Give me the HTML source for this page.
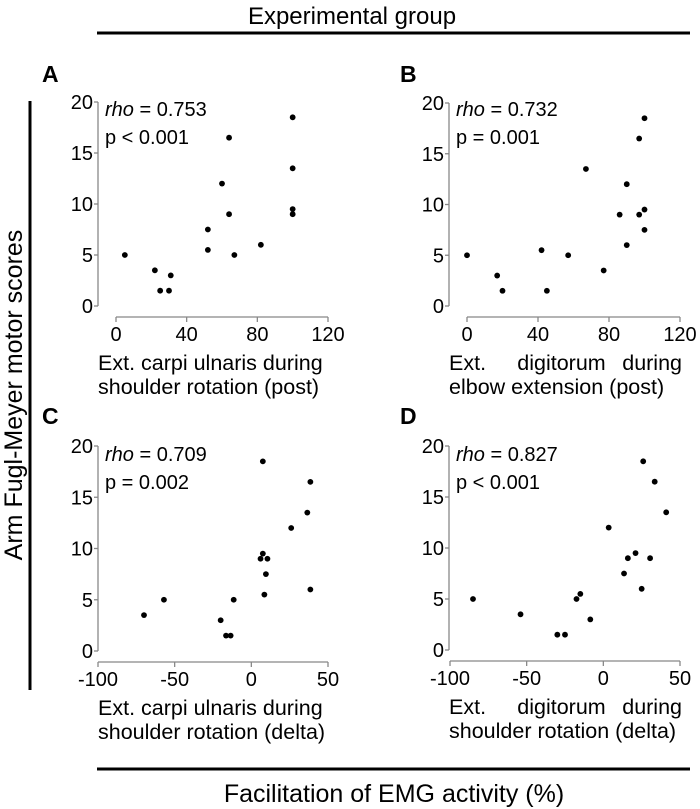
<!DOCTYPE html>
<html><head><meta charset="utf-8"><style>
body{margin:0;background:#fff;}
svg{display:block;font-family:"Liberation Sans",Arial,sans-serif;}
</style></head><body>
<svg id="fig" width="700" height="809" viewBox="0 0 700 809">
<text x="352" y="24" font-size="24" text-anchor="middle">Experimental group</text>
<line x1="97" y1="33" x2="690" y2="33" stroke="#000" stroke-width="3"/>
<line x1="30" y1="101" x2="30" y2="690" stroke="#000" stroke-width="3"/>
<text transform="translate(22,395) rotate(-90)" font-size="25" text-anchor="middle">Arm Fugl-Meyer motor scores</text>
<line x1="97" y1="769" x2="690" y2="769" stroke="#000" stroke-width="3"/>
<text x="394" y="802" font-size="25" text-anchor="middle">Facilitation of EMG activity (%)</text>
<g id="panels"></g>
</svg>
<script>
const aX=[5,22,25,30,31,52,52,60,64,64,67,82,100,100,100,100];
const aY=[5,3.5,1.5,1.5,3,7.5,5.5,12,16.5,9,5,6,18.5,13.5,9.5,9];
const bX=[0,17,20,42,45,57,67,77,86,90,90,97,97,100,100,100];
const bY=[5,3,1.5,5.5,1.5,5,13.5,3.5,9,12,6,16.5,9,18.5,9.5,7.5];
const cX=[-70,-57,-20,-16.5,-13.5,-11.5,6,7.5,10.5,9.5,8.5,7.5,26,36.5,38.5,38.5];
const cY=[3.5,5,3,1.5,1.5,5,9,9.5,9,7.5,5.5,18.5,12,13.5,16.5,6];
const dX=[-85,-54,-30,-25,-17.5,-15,-8.5,3.5,13.5,16,21,25,26,30.5,33.5,41];
const dY=[5,3.5,1.5,1.5,5,5.5,3,12,7.5,9,9.5,6,18.5,9,16.5,13.5];
const yTicks=[0,5,10,15,20];
const xTicksPost=[0,40,80,120];
const xTicksDelta=[-100,-50,0,50];

const NS="http://www.w3.org/2000/svg";
const root=document.getElementById('panels');
function mk(tag,attrs,parent,text){const e=document.createElementNS(NS,tag);for(const k in attrs)e.setAttribute(k,attrs[k]);if(text!==undefined)e.textContent=text;parent.appendChild(e);return e;}
const FS=20, LS=21.5;
const panels=[
 {id:'a',letter:'A',lx:42,ly:82,yx:98,y0:306,y20:102,axY:317,xmin:0,xmax:120,px0:116,px1:328,xs:aX,ys:aY,ticks:xTicksPost,rho:'0.753',p:'p < 0.001',l1:['Ext. carpi ulnaris during'],l2:'shoulder rotation (post)',ty:116},
 {id:'b',letter:'B',lx:400,ly:82,yx:449,y0:306,y20:103,axY:317,xmin:0,xmax:120,px0:467,px1:680,xs:bX,ys:bY,ticks:xTicksPost,rho:'0.732',p:'p = 0.001',l1:['Ext.','digitorum','during'],l2:'elbow extension (post)',ty:116},
 {id:'c',letter:'C',lx:42,ly:424,yx:98,y0:651,y20:446,axY:662,xmin:-100,xmax:50,px0:98,px1:328,xs:cX,ys:cY,ticks:xTicksDelta,rho:'0.709',p:'p = 0.002',l1:['Ext. carpi ulnaris during'],l2:'shoulder rotation (delta)',ty:461},
 {id:'d',letter:'D',lx:400,ly:424,yx:449,y0:650,y20:446,axY:661,xmin:-100,xmax:50,px0:450,px1:680,xs:dX,ys:dY,ticks:xTicksDelta,rho:'0.827',p:'p < 0.001',l1:['Ext.','digitorum','during'],l2:'shoulder rotation (delta)',ty:461}
];
panels.forEach(P=>{
 const g=mk('g',{},root);
 
 
 const sx=v=>P.px0+(v-P.xmin)/(P.xmax-P.xmin)*(P.px1-P.px0);
 const sy=v=>P.y0+(v/20)*(P.y20-P.y0);
 const L=mk('text',{x:P.lx,y:P.ly,'font-size':23,'font-weight':'bold'},g,P.letter);
 
 
 const ya=mk('line',{x1:P.yx,y1:sy(0),x2:P.yx,y2:sy(20),stroke:'#888','stroke-width':1.3},g);
 
 
 yTicks.forEach(t=>{
  mk('line',{x1:P.yx-4,y1:sy(t),x2:P.yx,y2:sy(t),stroke:'#888','stroke-width':1.3},g);
  const tl=mk('text',{x:P.yx-5,y:sy(t)+7,'font-size':FS,'text-anchor':'end'},g,String(t));
  
  
 });
 const xa=mk('line',{x1:sx(P.xmin),y1:P.axY,x2:sx(P.xmax),y2:P.axY,stroke:'#888','stroke-width':1.3},g);
 
 
 P.ticks.forEach(t=>{
  mk('line',{x1:sx(t),y1:P.axY,x2:sx(t),y2:P.axY+5,stroke:'#888','stroke-width':1.3},g);
  const tl=mk('text',{x:sx(t),y:P.axY+24,'font-size':FS,'text-anchor':'middle'},g,String(t));
  
  
 });
 P.xs.forEach((x,i)=>{
  const c=mk('circle',{cx:sx(x),cy:sy(P.ys[i]),r:2.9,fill:'#000'},g);
  
  
 });
 const r=mk('text',{x:P.yx+7,y:P.ty,'font-size':FS},g);
 
 
 mk('tspan',{'font-style':'italic'},r,'rho');
 mk('tspan',{},r,' = '+P.rho);
 const pv=mk('text',{x:P.yx+7,y:P.ty+28,'font-size':FS},g,P.p);
 
 
 const lx0=P.yx, lx1=sx(P.xmax)+2, b1=P.axY+53, b2=P.axY+77;
 if(P.l1.length===1){
  const t=mk('text',{x:lx0,y:b1,'font-size':LS},g,P.l1[0]);
  
  
 } else {
  const t=mk('text',{x:lx0,y:b1,'font-size':LS},g,P.l1[0]);
  
  
  const t2=mk('text',{x:(lx0+lx1)/2-4,y:b1,'font-size':LS,'text-anchor':'middle'},g,P.l1[1]);
  
  
  const t3=mk('text',{x:lx1,y:b1,'font-size':LS,'text-anchor':'end'},g,P.l1[2]);
  
  
 }
 const t4=mk('text',{x:lx0,y:b2,'font-size':LS},g,P.l2);
 
 
});
</script>
</body></html>
